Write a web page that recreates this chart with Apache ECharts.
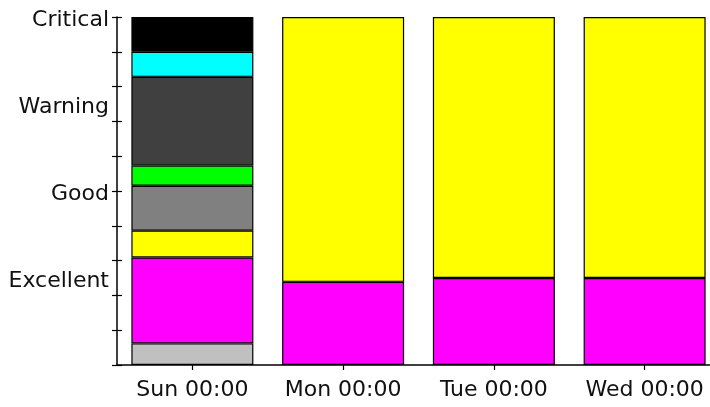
<!DOCTYPE html>
<html>
<head>
<meta charset="utf-8">
<script src="https://cdn.jsdelivr.net/npm/echarts@6/dist/echarts.min.js"></script>
<style>html,body{margin:0;padding:0;background:#fff}#c{width:710px;height:407px}</style>
</head>
<body>
<div id="c"></div>
<script>
var categories = ['Sun 00:00', 'Mon 00:00', 'Tue 00:00', 'Wed 00:00'];
var levelLabels = ['', 'Excellent', 'Good', 'Warning', 'Critical'];
var seriesNames = ['s1', 's2', 's3', 's4', 's5', 's6', 's7', 's8'];
var seriesColors = ['#c0c0c0', '#ff00ff', '#ffff00', '#808080', '#00ff00', '#404040', '#00ffff', '#000000'];
var lightGray = [6.2, null, null, null];
var magenta   = [24.7, 23.9, 25.0, 25.0];
var yellow    = [7.7, 76.1, 75.0, 75.0];
var gray      = [12.9, null, null, null];
var green     = [5.8, null, null, null];
var darkGray  = [25.5, null, null, null];
var cyan      = [7.2, null, null, null];
var black     = [10.0, null, null, null];
var seriesData = [lightGray, magenta, yellow, gray, green, darkGray, cyan, black];

var font = 'DejaVu Sans, Verdana, sans-serif';
var chart = echarts.init(document.getElementById('c'));
var series = seriesData.map(function (d, i) {
  return {
    name: seriesNames[i], type: 'bar', stack: 'all', data: d,
    xAxisIndex: 0, yAxisIndex: 0, barWidth: 122, clip: true,
    itemStyle: { color: seriesColors[i], borderColor: '#000', borderWidth: 1.2 },
    emphasis: { disabled: true }
  };
});
chart.setOption({
  animation: false,
  grid: { left: 117, top: 17, width: 603, height: 348, containLabel: false, outerBoundsMode: 'none' },
  xAxis: [
    { type: 'category', data: categories, position: 'bottom',
      axisLine: { show: true, lineStyle: { color: '#000', width: 1.5 } },
      axisTick: { show: true, alignWithLabel: true, inside: false, length: 5, lineStyle: { color: '#000', width: 1.2 } },
      axisLabel: { color: '#111', fontFamily: font, fontSize: 22, margin: 14, interval: 0, hideOverlap: false },
      splitLine: { show: false } },
    { type: 'category', data: categories, position: 'bottom',
      axisLine: { show: false },
      axisTick: { show: true, alignWithLabel: true, inside: true, length: 5, lineStyle: { color: '#000', width: 1.2 } },
      axisLabel: { show: false }, splitLine: { show: false } }
  ],
  yAxis: [
    { type: 'value', min: 0, max: 100, interval: 10, position: 'left',
      axisLine: { show: true, lineStyle: { color: '#000', width: 1.5 } },
      axisTick: { show: true, inside: false, length: 5, lineStyle: { color: '#000', width: 1.2 } },
      axisLabel: { show: false }, splitLine: { show: false } },
    { type: 'value', min: 0, max: 100, interval: 10, position: 'left',
      axisLine: { show: false },
      axisTick: { show: true, inside: true, length: 5, lineStyle: { color: '#000', width: 1.2 } },
      axisLabel: { show: false }, splitLine: { show: false } },
    { type: 'value', min: 0, max: 100, interval: 25, position: 'left',
      axisLine: { show: false }, axisTick: { show: false }, splitLine: { show: false },
      axisLabel: { color: '#111', fontFamily: font, fontSize: 22, margin: 8,
        verticalAlign: 'top', lineHeight: 6,
        formatter: function (v) { return levelLabels[Math.round(v / 25)] || ''; } } }
  ],
  series: series
});
</script>
</body>
</html>
